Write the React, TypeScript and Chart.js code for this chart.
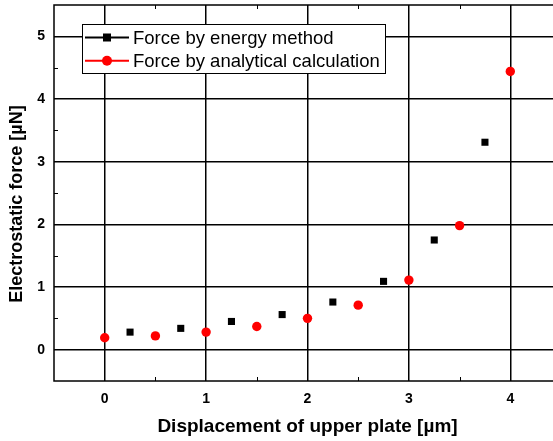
import React, { useEffect, useRef } from "react";
import { Chart, registerables } from "chart.js";

Chart.register(...registerables);

const energyX = [0.25, 0.75, 1.25, 1.75, 2.25, 2.75, 3.25, 3.75];
const energyY = [0.28, 0.34, 0.45, 0.56, 0.76, 1.09, 1.75, 3.31];
const analyticX = [0, 0.5, 1, 1.5, 2, 2.5, 3, 3.5, 4];
const analyticY = [0.19, 0.22, 0.28, 0.37, 0.5, 0.71, 1.11, 1.98, 4.44];
const xTicks = [0, 1, 2, 3, 4];
const yTicks = [0, 1, 2, 3, 4, 5];
const seriesNames = ["Force by energy method", "Force by analytical calculation"];
const xTitle = "Displacement of upper plate [µm]";
const yTitle = "Electrostatic force [µN]";

const FONT = "'Liberation Sans', Arial, Helvetica, sans-serif";

const framePlugin = {
  id: "frameAndExtras",
  afterDatasetsDraw(chart: any) {
    const { ctx, chartArea: a, scales } = chart;
    ctx.save();
    ctx.strokeStyle = "#000";
    ctx.lineWidth = 1.5;
    ctx.strokeRect(a.left, a.top, a.right - a.left, a.bottom - a.top);
    ctx.lineWidth = 1;
    const xs = scales.x;
    for (let v = xs.min + 1; v < xs.max; v += 1) {
      const px = Math.round(xs.getPixelForValue(v)) + 0.5;
      ctx.beginPath();
      ctx.moveTo(px, a.bottom);
      ctx.lineTo(px, a.bottom - 4);
      ctx.moveTo(px, a.top);
      ctx.lineTo(px, a.top + 4);
      ctx.stroke();
    }
    const ys = scales.y;
    for (let v = ys.min + 1; v < ys.max; v += 1) {
      const py = Math.round(ys.getPixelForValue(v)) + 0.5;
      ctx.beginPath();
      ctx.moveTo(a.left, py);
      ctx.lineTo(a.left + 4, py);
      ctx.moveTo(a.right, py);
      ctx.lineTo(a.right - 4, py);
      ctx.stroke();
    }
    ctx.restore();
  },
  afterDraw(chart: any) {
    const { ctx, chartArea: a } = chart;
    ctx.save();
    const bx = a.left + 28, by = a.top + 19, bw = 303, bh = 49;
    ctx.fillStyle = "#fff";
    ctx.fillRect(bx, by, bw, bh);
    ctx.strokeStyle = "#000";
    ctx.lineWidth = 1;
    ctx.strokeRect(bx + 0.5, by + 0.5, bw, bh);
    const rows = [
      { y: by + 13.5, color: "#000", shape: "rect" },
      { y: by + 36.7, color: "#ff0000", shape: "circle" },
    ];
    rows.forEach((r, i) => {
      ctx.strokeStyle = r.color;
      ctx.fillStyle = r.color;
      ctx.lineWidth = 2;
      ctx.beginPath();
      ctx.moveTo(bx + 3, r.y);
      ctx.lineTo(bx + 47, r.y);
      ctx.stroke();
      const mx = bx + 25;
      if (r.shape === "rect") {
        ctx.fillRect(mx - 4, r.y - 4, 8, 8);
      } else {
        ctx.beginPath();
        ctx.arc(mx, r.y, 5, 0, Math.PI * 2);
        ctx.fill();
      }
      ctx.fillStyle = "#000";
      ctx.font = `18.5px ${FONT}`;
      ctx.textBaseline = "middle";
      ctx.textAlign = "left";
      ctx.fillText(seriesNames[i], bx + 51, r.y + 1);
    });
    ctx.fillStyle = "#000";
    ctx.font = `bold 19px ${FONT}`;
    ctx.textAlign = "center";
    ctx.textBaseline = "middle";
    ctx.fillText(xTitle, 307.5, 427);
    ctx.save();
    ctx.translate(17, 204);
    ctx.rotate(-Math.PI / 2);
    ctx.font = `bold 18px ${FONT}`;
    ctx.fillText(yTitle, 0, 0);
    ctx.restore();
    ctx.restore();
  },
};

function zeroPad(scale: any) {
  scale.paddingTop = 0;
  scale.paddingBottom = 0;
  scale.paddingLeft = 0;
  scale.paddingRight = 0;
}

export default function App() {
  const ref = useRef<HTMLCanvasElement | null>(null);
  useEffect(() => {
    document.body.style.margin = "0";
    const canvas = ref.current;
    if (!canvas) return;
    const chart = new Chart(canvas, {
      type: "scatter",
      data: {
        datasets: [
          {
            label: seriesNames[0],
            data: energyX.map((x, i) => ({ x, y: energyY[i] })),
            pointStyle: "rect",
            pointRadius: 5,
            backgroundColor: "#000",
            borderColor: "#000",
            borderWidth: 0,
            showLine: false,
          },
          {
            label: seriesNames[1],
            data: analyticX.map((x, i) => ({ x, y: analyticY[i] })),
            pointStyle: "circle",
            pointRadius: 4.7,
            backgroundColor: "#ff0000",
            borderColor: "#ff0000",
            borderWidth: 0,
            showLine: false,
          },
        ],
      },
      options: {
        responsive: false,
        animation: false,
        layout: { autoPadding: false, padding: { top: 5, right: 1, left: 0, bottom: 0 } },
        plugins: {
          legend: { display: false },
          tooltip: { enabled: false },
          title: { display: false },
        },
        scales: {
          x: {
            type: "linear",
            min: -0.5,
            max: 4.5,
            afterFit(scale: any) {
              scale.height = 60;
              zeroPad(scale);
            },
            afterBuildTicks(scale: any) {
              scale.ticks = xTicks.map((v) => ({ value: v }));
            },
            grid: { color: "#000", lineWidth: 1.5, drawTicks: false },
            border: { display: false },
            ticks: {
              padding: 10,
              color: "#000",
              font: { family: FONT, size: 14, weight: "bold" },
              callback: (v: any) => String(v),
            },
          },
          y: {
            type: "linear",
            min: -0.5,
            max: 5.5,
            afterFit(scale: any) {
              scale.width = 54;
              zeroPad(scale);
            },
            afterBuildTicks(scale: any) {
              scale.ticks = yTicks.map((v) => ({ value: v }));
            },
            grid: { color: "#000", lineWidth: 1.5, drawTicks: false },
            border: { display: false },
            ticks: {
              padding: 9,
              color: "#000",
              font: { family: FONT, size: 14, weight: "bold" },
              callback: (v: any) => String(v),
            },
          },
        },
      },
      plugins: [framePlugin],
    } as any);
    return () => chart.destroy();
  }, []);
  return (
    <div
      style={{
        position: "absolute",
        left: 0,
        top: 0,
        width: 553,
        height: 441,
        overflow: "hidden",
        background: "#fff",
      }}
    >
      <canvas ref={ref} width={562} height={441} style={{ display: "block" }} />
    </div>
  );
}
